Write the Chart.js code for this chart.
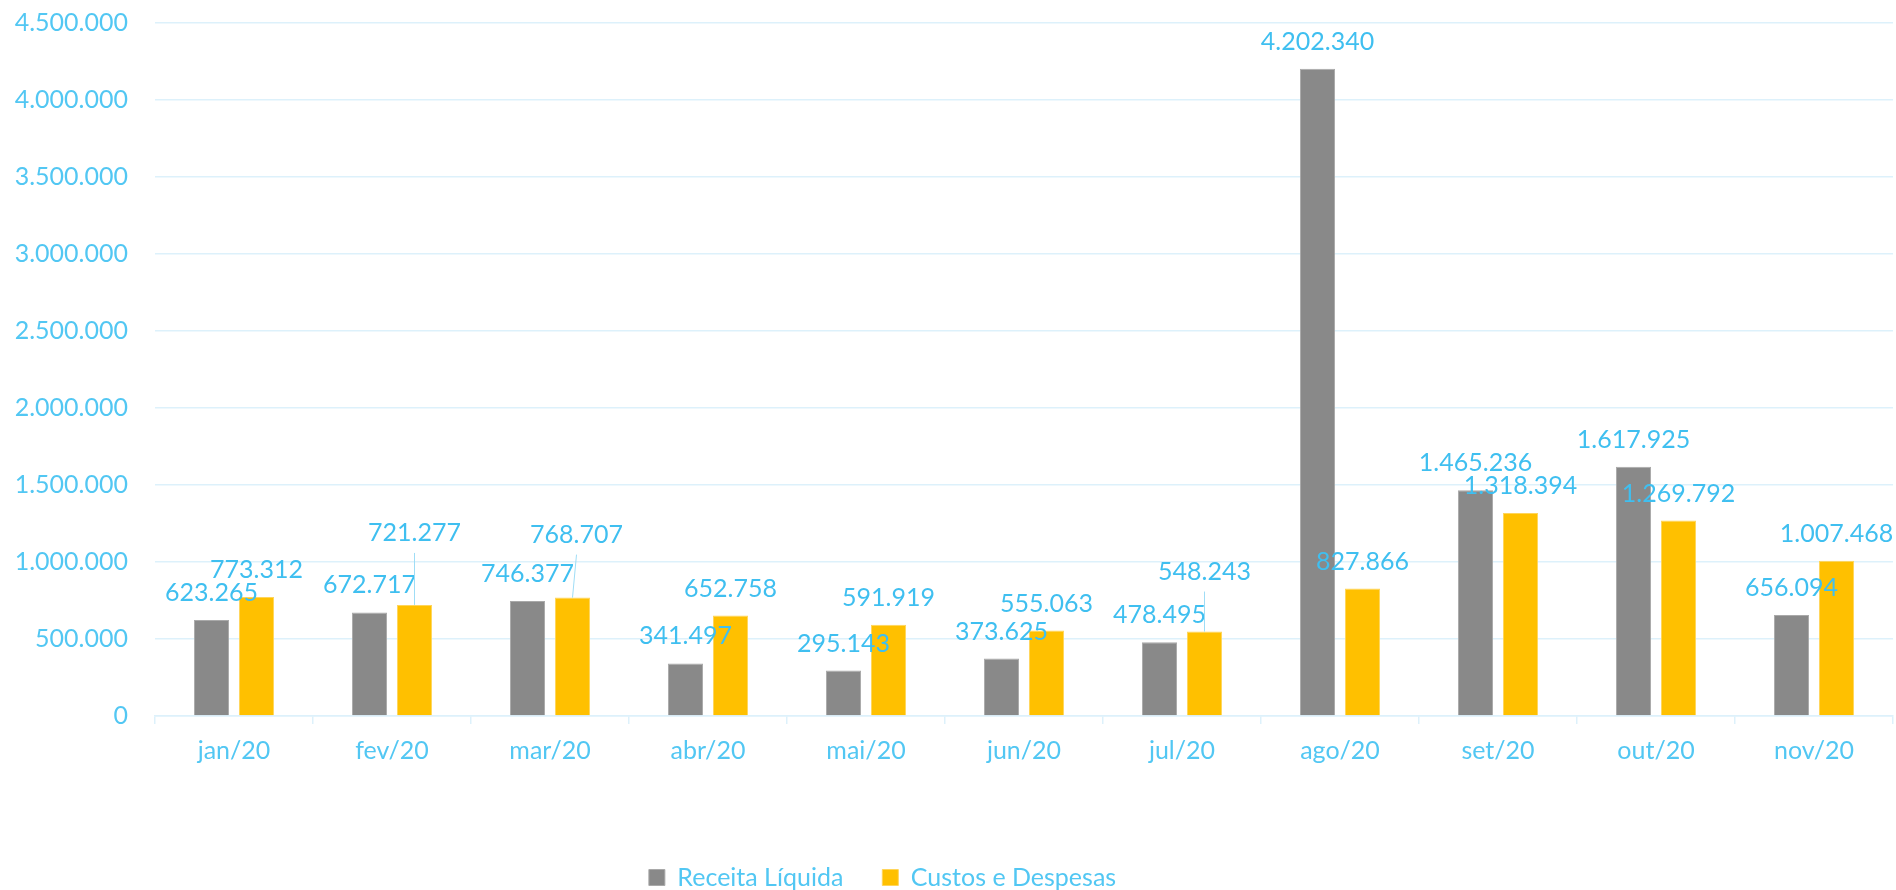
<!DOCTYPE html>
<html>
<head>
<meta charset="utf-8">
<script src="https://cdn.jsdelivr.net/npm/chart.js@4/dist/chart.umd.min.js"></script>
<style>
  html, body { margin: 0; padding: 0; background: #fff; }
  #box { width: 1896px; height: 890px; }
</style>
</head>
<body>
<div id="box"><canvas id="grafico"></canvas></div>
<script>
const meses = ['jan/20', 'fev/20', 'mar/20', 'abr/20', 'mai/20', 'jun/20', 'jul/20', 'ago/20', 'set/20', 'out/20', 'nov/20']
const receita = [623265, 672717, 746377, 341497, 295143, 373625, 478495, 4202340, 1465236, 1617925, 656094]
const custos = [773312, 721277, 768707, 652758, 591919, 555063, 548243, 827866, 1318394, 1269792, 1007468]
const yTicks = [0, 500000, 1000000, 1500000, 2000000, 2500000, 3000000, 3500000, 4000000, 4500000]

const corTexto = '#52C7F3'
const corRotulo = '#3FBFF0'
const corGrade = '#DDF1FB'
const fonte = 'Lato'

// rótulos que foram arrastados no original (serie-indice: [dx, subida])
const deslocados = { '1-1': [0, 72], '1-2': [4, 63], '1-6': [0, 60] }

const formata = v => String(v).replace(/\B(?=(\d{3})+(?!\d))/g, '.')

const rotulos = {
  id: 'rotulos',
  afterLayout(chart) {
    // a legenda do original fica um pouco à esquerda do centro
    chart.legend.left -= 64
    chart.legend.right -= 64
  },
  afterDatasetsDraw(chart) {
    const ctx = chart.ctx
    ctx.save()
    ctx.font = '25px ' + fonte
    ctx.textAlign = 'center'
    ctx.textBaseline = 'middle'
    chart.data.datasets.forEach((ds, s) => {
      chart.getDatasetMeta(s).data.forEach((bar, i) => {
        const desl = deslocados[s + '-' + i]
        const dx = desl ? desl[0] : 0
        const sobe = desl ? desl[1] : 27
        const x = bar.x + dx
        const y = bar.y - sobe
        if (desl) {
          ctx.strokeStyle = '#9FDDF6'
          ctx.lineWidth = 1
          ctx.beginPath()
          ctx.moveTo(x, y + 20)
          ctx.lineTo(bar.x, bar.y)
          ctx.stroke()
        }
        ctx.fillStyle = corRotulo
        ctx.fillText(formata(ds.data[i]), x, y)
      })
    })
    ctx.restore()
  }
}

new Chart(document.querySelector('#grafico'), {
  type: 'bar',
  data: {
    labels: meses,
    datasets: [{
      label: 'Receita Líquida',
      data: receita,
      backgroundColor: '#898989',
      borderColor: '#A9A9A9',
      borderWidth: 1
    }, {
      label: 'Custos e Despesas',
      data: custos,
      backgroundColor: '#FFC000',
      borderColor: '#FFD55A',
      borderWidth: 1
    }]
  },
  options: {
    responsive: true,
    maintainAspectRatio: false,
    animation: false,
    datasets: { bar: { categoryPercentage: 0.57, barPercentage: 0.78 } },
    layout: { padding: { top: 23, right: 3, left: 0, bottom: -10 } },
    scales: {
      x: {
        grid: { display: true, drawOnChartArea: false, color: corGrade, lineWidth: 1.5, tickLength: 8 },
        border: { color: corGrade, width: 1.5 },
        ticks: { color: corTexto, font: { family: fonte, size: 25 }, padding: 12 },
        afterFit: s => { s.height = 110; s.paddingLeft = 0; s.paddingRight = 0 }
      },
      y: {
        min: 0,
        max: 4500000,
        afterBuildTicks: s => { s.ticks = yTicks.map(v => ({ value: v })) },
        grid: { color: corGrade, lineWidth: 1.5, drawTicks: false },
        border: { display: false },
        ticks: { color: corTexto, font: { family: fonte, size: 25 }, padding: 27, callback: v => formata(v) },
        afterFit: s => { s.width = 155; s.paddingTop = 0; s.paddingBottom = 0 }
      }
    },
    plugins: {
      legend: {
        position: 'bottom',
        labels: {
          color: corTexto,
          font: { family: fonte, size: 25 },
          boxWidth: 16,
          boxHeight: 16,
          padding: 39
        }
      },
      tooltip: { enabled: false }
    }
  },
  plugins: [rotulos]
})
</script>
</body>
</html>
